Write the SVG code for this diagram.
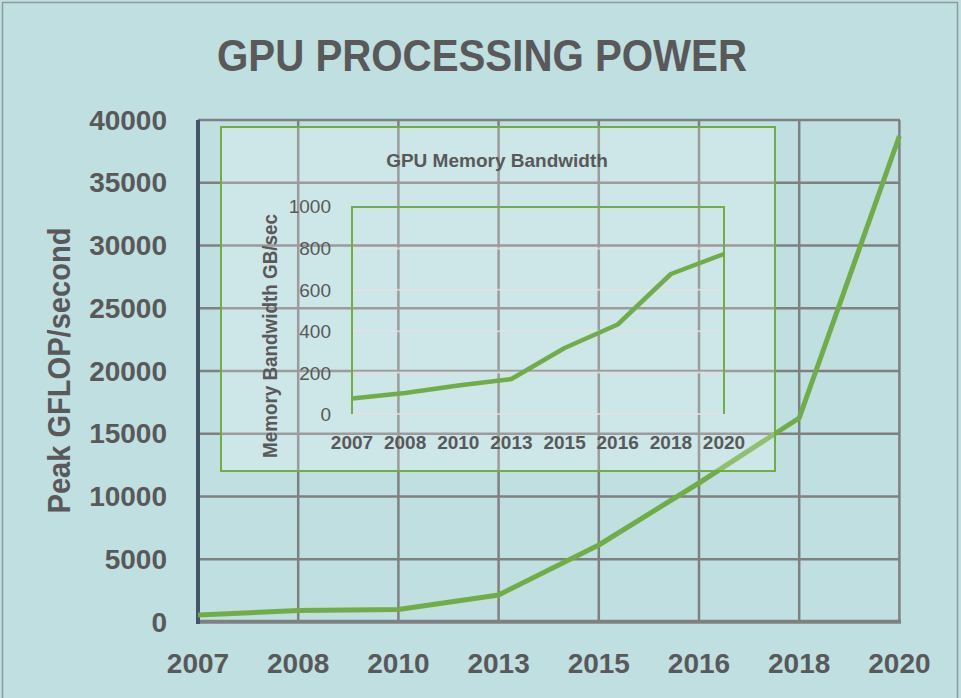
<svg xmlns="http://www.w3.org/2000/svg" width="961" height="698" viewBox="0 0 961 698">
  <style>
    .bg { fill: #BFDFE0; }
    .frame { fill: none; stroke: #8F9A9B; stroke-width: 1.5; }
    .grid { stroke: #808080; stroke-width: 2.5; fill: none; }
    .txt { font-family: "Liberation Sans", Arial, sans-serif; fill: #595959; }
    .b { font-weight: bold; }
    .big { font-size: 28px; }
    .series { fill: none; stroke: #70AD47; stroke-linejoin: round; stroke-linecap: butt; }
    .inset { fill: #FFFFFF; fill-opacity: 0.22; stroke: #70AD47; stroke-width: 2; }
    .igrid { stroke: #E2E2E2; stroke-width: 2; stroke-opacity: 0.75; }
    .ilab { font-size: 19px; }
    .ixlab { font-size: 19px; }
  </style>

  <!-- page -->
  <rect class="bg" x="0" y="0" width="961" height="698"/>
  <path class="frame" d="M2.5,698 V2.5 H957.5 V698"/>

  <!-- main plot: grid -->
  <g id="main-grid" class="grid">
    <path d="M198,120 H900 M198,182.75 H900 M198,245.5 H900 M198,308.25 H900 M198,371 H900 M198,433.75 H900 M198,496.5 H900 M198,559.25 H900"/>
    <path d="M298.2,120 V622 M398.4,120 V622 M498.6,120 V622 M598.8,120 V622 M699,120 V622 M799.2,120 V622 M899.4,120 V622"/>
  </g>

  <!-- main plot: axes -->
  <g id="main-axes">
    <line x1="196" y1="621.7" x2="901" y2="621.7" stroke="#808080" stroke-width="4"/>
    <line x1="198" y1="120" x2="198" y2="624" stroke="#44546A" stroke-width="4"/>
  </g>

  <!-- main series: peak GFLOP/s -->
  <polyline id="main-series" class="series" stroke-width="5"
    points="198,615 298.2,610.5 398.4,609.5 498.6,595 598.8,545 699,483 799.2,418 899.4,136"/>

  <!-- inset chart -->
  <g id="inset">
    <rect class="inset" x="221" y="127" width="554" height="344"/>
    <text class="txt b" x="497" y="167" font-size="19" text-anchor="middle">GPU Memory Bandwidth</text>

    <g id="inset-grid">
      <path class="igrid" d="M352,248.4 H724 M352,289.8 H724 M352,331.2 H724 M352,372.6 H724 M352,414 H724"/>
      <path d="M352,414 V207 H724 V414" fill="none" stroke="#70AD47" stroke-width="2"/>
    </g>

    <g id="inset-y-labels" class="txt ilab" text-anchor="end">
      <text x="331" y="213">1000</text>
      <text x="331" y="255">800</text>
      <text x="331" y="296.5">600</text>
      <text x="331" y="338">400</text>
      <text x="331" y="379.5">200</text>
      <text x="331" y="421">0</text>
    </g>

    <g id="inset-x-labels" class="txt b ixlab" text-anchor="middle">
      <text x="352" y="449">2007</text>
      <text x="405.1" y="449">2008</text>
      <text x="458.3" y="449">2010</text>
      <text x="511.4" y="449">2013</text>
      <text x="564.6" y="449">2015</text>
      <text x="617.7" y="449">2016</text>
      <text x="670.9" y="449">2018</text>
      <text x="724" y="449">2020</text>
    </g>

    <text class="txt b" font-size="20" text-anchor="middle" textLength="244" lengthAdjust="spacingAndGlyphs"
      transform="translate(277,336) rotate(-90)" x="0" y="0">Memory Bandwidth GB/sec</text>

    <polyline id="inset-series" class="series" stroke-width="4.5"
      points="352,398.5 405.1,393 458.3,385.5 511.4,379 564.6,348 617.7,324.5 670.9,274 724,254"/>
  </g>

  <!-- titles -->
  <text class="txt b" x="482" y="71" font-size="45" text-anchor="middle" textLength="530" lengthAdjust="spacingAndGlyphs">GPU PROCESSING POWER</text>
  <text class="txt b" font-size="31" text-anchor="middle" textLength="286" lengthAdjust="spacingAndGlyphs"
    transform="translate(70,370.5) rotate(-90)" x="0" y="0">Peak GFLOP/second</text>

  <!-- main value axis labels -->
  <g id="main-y-labels" class="txt b big" text-anchor="end">
    <text x="167" y="129.5">40000</text>
    <text x="167" y="192.25">35000</text>
    <text x="167" y="255">30000</text>
    <text x="167" y="317.75">25000</text>
    <text x="167" y="380.5">20000</text>
    <text x="167" y="443.25">15000</text>
    <text x="167" y="506">10000</text>
    <text x="167" y="568.75">5000</text>
    <text x="167" y="631.5">0</text>
  </g>

  <!-- main category axis labels -->
  <g id="main-x-labels" class="txt b big" text-anchor="middle">
    <text x="198" y="673">2007</text>
    <text x="298.2" y="673">2008</text>
    <text x="398.4" y="673">2010</text>
    <text x="498.6" y="673">2013</text>
    <text x="598.8" y="673">2015</text>
    <text x="699" y="673">2016</text>
    <text x="799.2" y="673">2018</text>
    <text x="899.4" y="673">2020</text>
  </g>
</svg>
